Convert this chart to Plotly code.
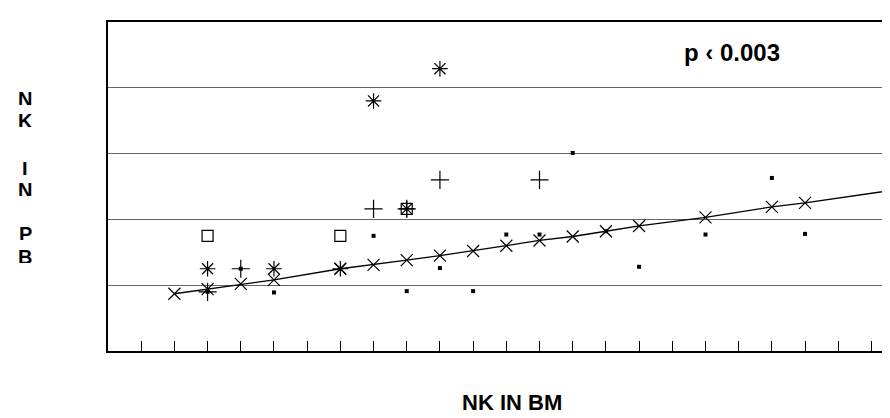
import plotly.graph_objects as go

# Regression (fitted) points, marked with x
fit_x = [2, 3, 4, 5, 7, 8, 9, 10, 11, 12, 13, 14, 15, 16, 18, 20, 21]
fit_y = [0.87, 0.94, 1.02, 1.08, 1.25, 1.31, 1.38, 1.45, 1.52, 1.60, 1.68, 1.74, 1.82, 1.90, 2.03, 2.19, 2.25]
line_end_x = [24]
line_end_y = [2.47]

# Observed points by symbol
ast_x = [3, 5, 7, 8, 10, 9]
ast_y = [1.25, 1.25, 1.25, 3.80, 4.29, 2.16]
plus_x = [3, 4, 8, 10, 13, 9]
plus_y = [0.90, 1.25, 2.16, 2.60, 2.60, 2.16]
sq_x = [3, 7, 9]
sq_y = [1.75, 1.75, 2.16]
dot_x = [3, 4, 5, 8, 9, 10, 11, 12, 13, 14, 15, 16, 18, 20, 21]
dot_y = [0.90, 1.25, 0.89, 1.75, 0.91, 1.26, 0.91, 1.77, 1.77, 3.01, 1.82, 1.28, 1.77, 2.63, 1.78]

ylabel_letters = ["N", "K", "I", "N", "P", "B"]
ylabel_pos = [3.84, 3.50, 2.77, 2.46, 1.78, 1.44]
xlabel = "NK IN BM"
ptext = "p \u2039 0.003"

L, R, T, B, W, H = 100, 0, 14, 75, 890, 418
PW = W - L - R
PH = H - T - B

def px_to_paper_x(px):
    return (px - L) / PW

def px_to_paper_y(py):
    return (H - B - py) / PH

fig = go.Figure()
fig.add_trace(go.Scatter(x=fit_x + line_end_x, y=fit_y + line_end_y, mode="lines",
                         line=dict(color="black", width=1.3), hoverinfo="skip"))
fig.add_trace(go.Scatter(x=fit_x, y=fit_y, mode="markers",
                         marker=dict(symbol="x-thin-open", size=12, color="black",
                                     line=dict(color="black", width=1.2))))
fig.add_trace(go.Scatter(x=ast_x, y=ast_y, mode="markers",
                         marker=dict(symbol="asterisk-open", size=13, color="black",
                                     line=dict(color="black", width=1.2))))
fig.add_trace(go.Scatter(x=plus_x, y=plus_y, mode="markers",
                         marker=dict(symbol="cross-thin-open", size=13, color="black",
                                     line=dict(color="black", width=1.2))))
fig.add_trace(go.Scatter(x=sq_x, y=sq_y, mode="markers",
                         marker=dict(symbol="square-open", size=11, color="black",
                                     line=dict(color="black", width=1.2))))
fig.add_trace(go.Scatter(x=dot_x, y=dot_y, mode="markers",
                         marker=dict(symbol="square", size=4, color="black")))

for letter, yy in zip(ylabel_letters, ylabel_pos):
    fig.add_annotation(text="<b>" + letter + "</b>", x=px_to_paper_x(17), xref="paper",
                       y=yy, yref="y", xanchor="center", yanchor="middle", height=13,
                       borderpad=0, showarrow=False,
                       font=dict(family="Liberation Sans", size=20, color="black"))

fig.add_annotation(text="<b>" + xlabel + "</b>", x=px_to_paper_x(504), xref="paper",
                   y=px_to_paper_y(394), yref="paper", xanchor="center", yanchor="middle",
                   showarrow=False, font=dict(family="Liberation Sans", size=22, color="black"))

fig.add_annotation(text="<b>" + ptext + "</b>", x=px_to_paper_x(724), xref="paper",
                   y=4.53, yref="y", xanchor="center", yanchor="middle",
                   showarrow=False, font=dict(family="Liberation Sans", size=24, color="black"))

fig.update_layout(
    width=W, height=H,
    margin=dict(l=L, r=R, t=T, b=B),
    paper_bgcolor="white", plot_bgcolor="white",
    showlegend=False,
    xaxis=dict(range=[0, 23.8], tick0=0, dtick=1, ticks="inside", ticklen=10, tickwidth=1.2,
               tickcolor="black", showticklabels=False, showgrid=False, zeroline=False,
               showline=True, linecolor="black", linewidth=1.5, mirror=True),
    yaxis=dict(range=[0, 5], dtick=1, showticklabels=False, ticks="", showgrid=True,
               gridcolor="#666", gridwidth=1, zeroline=False,
               showline=True, linecolor="black", linewidth=1.5),
)
fig.write_html("out.html")
